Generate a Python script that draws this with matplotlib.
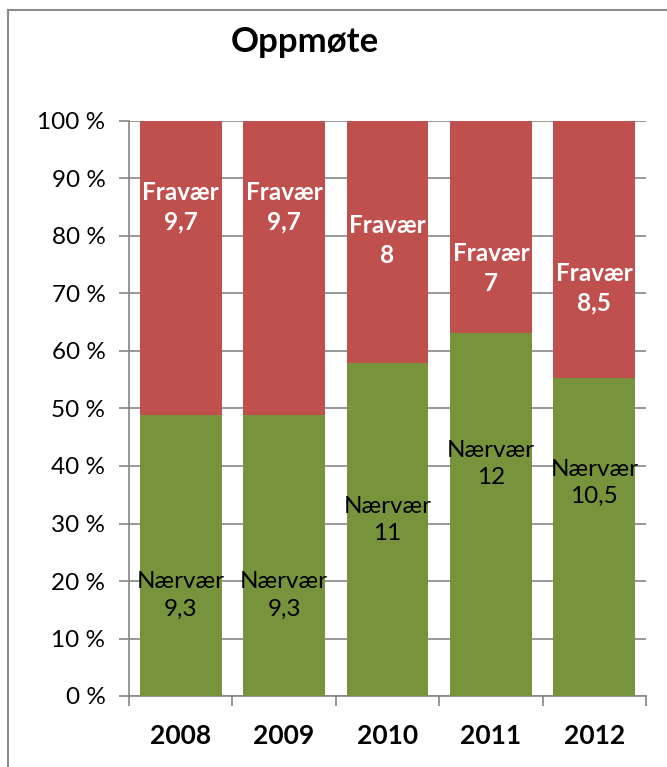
import matplotlib
matplotlib.use("Agg")
import matplotlib.pyplot as plt
from matplotlib.lines import Line2D
import numpy as np

years = ["2008", "2009", "2010", "2011", "2012"]
naervaer = [9.3, 9.3, 11, 12, 10.5]
fravaer = [9.7, 9.7, 8, 7, 8.5]
naervaer_txt = ["9,3", "9,3", "11", "12", "10,5"]
fravaer_txt = ["9,7", "9,7", "8", "7", "8,5"]
# label anchor heights (percent), as placed in the original chart
naervaer_label_y = [17.5, 17.5, 30.6, 40.4, 37.0]
fravaer_label_y = [85.0, 85.0, 79.2, 74.4, 70.9]

green = "#77933C"
red = "#C0504D"
grid = "#868686"

plt.rcParams['font.family'] = ['Lato', 'DejaVu Sans']

W, H = 667, 767
fig = plt.figure(figsize=(W / 100, H / 100), dpi=100)
ax = fig.add_axes([129 / W, 1 - 696 / H, 517 / W, 575 / H])

tot = np.array(naervaer) + np.array(fravaer)
pn = np.array(naervaer) / tot * 100
pf = np.array(fravaer) / tot * 100
x = np.arange(len(years))
ax.bar(x, pn, width=0.79, color=green, zorder=3)
ax.bar(x, pf, bottom=pn, width=0.79, color=red, zorder=3)

for i in range(len(years)):
    ax.text(x[i], naervaer_label_y[i], "Nærvær\n" + naervaer_txt[i], ha="center", va="center",
            fontsize=17.5, color="black", linespacing=1.35, zorder=4)
    ax.text(x[i], fravaer_label_y[i], "Fravær\n" + fravaer_txt[i], ha="center", va="center",
            fontsize=17.5, color="white", fontweight="bold", linespacing=1.35, zorder=4)

ax.set_xlim(-0.5, len(years) - 0.5)
ax.set_ylim(0, 100)
ax.set_yticks(np.arange(0, 101, 10))
ax.set_yticklabels([f"{v} %" for v in range(0, 101, 10)], fontsize=17.5)
ax.set_xticks(x)
ax.set_xticklabels(years, fontsize=19, fontweight="bold")
ax.tick_params(axis="x", length=0, pad=20)
ax.set_xticks(np.arange(-0.5, len(years), 1), minor=True)
ax.tick_params(axis="x", which="minor", length=7, color=grid, width=1.2)
ax.tick_params(axis="y", length=7, color=grid, width=1.2, pad=10)
ax.yaxis.grid(True, color=grid, linewidth=1.2, zorder=0)
ax.set_axisbelow(True)
for s in ["top", "right"]:
    ax.spines[s].set_visible(False)
for s in ["left", "bottom"]:
    ax.spines[s].set_color(grid)
    ax.spines[s].set_linewidth(1.2)

fig.text(305 / W, 1 - 42 / H, "Oppmøte", ha="center", va="center", fontsize=25, fontweight="bold")

fig.add_artist(Line2D([8 / W, 8 / W], [0, 1 - 10 / H], color="#8c8c8c", linewidth=1.5, transform=fig.transFigure))
fig.add_artist(Line2D([8 / W, 1], [1 - 10 / H, 1 - 10 / H], color="#8c8c8c", linewidth=1.5, transform=fig.transFigure))

fig.savefig("out.png", dpi=100)
